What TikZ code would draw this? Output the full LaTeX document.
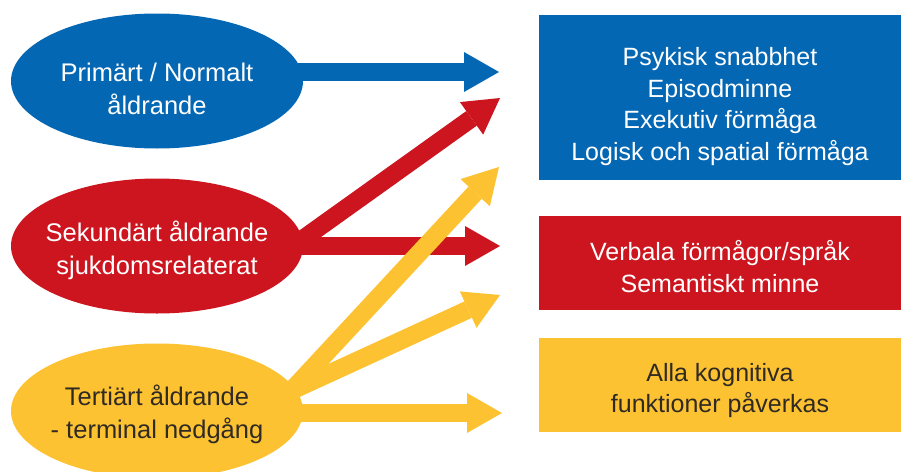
\documentclass[tikz,border=0pt]{standalone}
\usepackage{fontspec}
\setmainfont{Liberation Sans}
\usetikzlibrary{arrows.meta, positioning, shapes.geometric, backgrounds}
\definecolor{agblue}{HTML}{0467B3}
\definecolor{agred}{HTML}{CC151E}
\definecolor{agyellow}{HTML}{FDC231}
\definecolor{agtext}{HTML}{2F2A24}
\newcommand{\topline}[1]{\rule{0pt}{#1}}

\begin{document}
\begin{tikzpicture}[x=1pt, y=-1pt,
    ell/.style={ellipse, inner xsep=-20pt, inner ysep=0pt, outer sep=0pt, minimum width=292pt,
      minimum height=135pt, align=center, font=\fontsize{25.5}{33}\selectfont},
    box/.style={rectangle, inner sep=0pt, outer sep=0pt, minimum width=362pt,
      align=center, font=\fontsize{25}{31.5}\selectfont},
    arrow/.style={-{Triangle[length=35pt, width=40pt, line width=0pt]}, line width=18pt}]
  \useasboundingbox (0,0) rectangle (901,471);
  % left: the three kinds of ageing
  \node[ell, fill=agblue, text=white] (prim) at (157,81)
    {\topline{34.5pt}Primärt / Normalt\\åldrande};
  \node[ell, fill=agred, text=white, below=30pt of prim] (sek)
    {\topline{29.5pt}Sekundärt åldrande\\sjukdomsrelaterat};
  \node[ell, fill=agyellow, text=agtext, below=30pt of sek] (ter)
    {\topline{27pt}Tertiärt åldrande\\- terminal nedgång};
  % right: what is affected
  \node[box, fill=agblue, text=white, minimum height=165pt] (snabb) at (720,97.5)
    {\topline{36pt}Psykisk snabbhet\\Episodminne\\Exekutiv förmåga\\Logisk och spatial förmåga};
  \node[box, fill=agred, text=white, minimum height=94pt, below=36pt of snabb] (verbal)
    {\topline{27pt}Verbala förmågor/språk\\Semantiskt minne};
  \node[box, fill=agyellow, text=agtext, minimum height=94pt, below=28pt of verbal] (alla)
    {\topline{29pt}Alla kognitiva\\funktioner påverkas};
  % arrow tips
  \coordinate (tipA) at (499,72);
  \coordinate (tipB) at (500,98);
  \coordinate (tipC) at (500,246);
  \coordinate (tipD) at (499,167);
  \coordinate (tipE) at (500,295);
  \coordinate (tipF) at (502,413);
  \begin{scope}[on background layer]
    \draw[arrow, agblue] ([xshift=-10pt, yshift=9pt]prim.east) -- (tipA);
    \draw[arrow, agred] ([xshift=-10pt]sek.east) -- (tipB);
    \draw[arrow, agred] ([xshift=-10pt]sek.east) -- (tipC);
    \draw[arrow, agyellow] ([xshift=-12pt, yshift=20pt]ter.east) -- (tipD);
    \draw[arrow, agyellow] ([xshift=-12pt, yshift=20pt]ter.east) -- (tipE);
    \draw[arrow, agyellow] ([xshift=-10pt, yshift=-2pt]ter.east) -- (tipF);
  \end{scope}
\end{tikzpicture}
\end{document}
